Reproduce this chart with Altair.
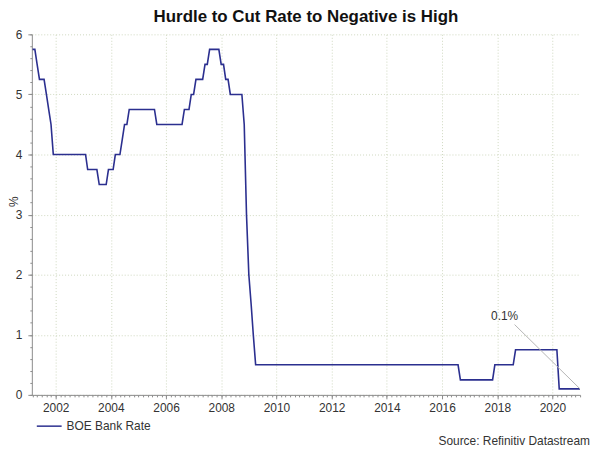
import altair as alt
import pandas as pd

# BOE Bank Rate, month-end points where the rate changes (and the month before)
months = [
    "2001-02", "2001-03", "2001-04", "2001-05", "2001-07", "2001-08", "2001-09",
    "2001-10", "2001-11", "2003-01", "2003-02", "2003-06", "2003-07", "2003-10",
    "2003-11", "2004-01", "2004-02", "2004-04", "2004-05", "2004-06", "2004-07",
    "2004-08", "2005-07", "2005-08", "2006-07", "2006-08", "2006-10", "2006-11",
    "2006-12", "2007-01", "2007-04", "2007-05", "2007-06", "2007-07", "2007-11",
    "2007-12", "2008-01", "2008-02", "2008-03", "2008-04", "2008-09", "2008-10",
    "2008-11", "2008-12", "2009-01", "2009-02", "2009-03", "2016-07", "2016-08",
    "2017-10", "2017-11", "2018-07", "2018-08", "2020-02", "2020-03", "2020-12",
]
rates = [
    5.75, 5.75, 5.5, 5.25, 5.25, 5.0, 4.75,
    4.5, 4.0, 4.0, 3.75, 3.75, 3.5, 3.5,
    3.75, 3.75, 4.0, 4.0, 4.25, 4.5, 4.5,
    4.75, 4.75, 4.5, 4.5, 4.75, 4.75, 5.0,
    5.0, 5.25, 5.25, 5.5, 5.5, 5.75, 5.75,
    5.5, 5.5, 5.25, 5.25, 5.0, 5.0, 4.5,
    3.0, 2.0, 1.5, 1.0, 0.5, 0.5, 0.25,
    0.25, 0.5, 0.5, 0.75, 0.75, 0.1, 0.1,
]
series_name = "BOE Bank Rate"

# annotation
ann_text = "0.1%"
ann_text_date = "2018-04-08"
ann_text_val = 1.32
ann_line_dates = ["2018-08-18", "2020-12-31"]
ann_line_vals = [1.17, 0.1]

x_labels_years = list(range(2002, 2021, 2))
y_major_ticks = [0, 1, 2, 3, 4, 5, 6]
y_minor_ticks = [round(i * 0.2, 1) for i in range(31)]

dates = (pd.to_datetime(months) + pd.offsets.MonthEnd(0)).strftime("%Y-%m-%d")
df = pd.DataFrame({"date": dates, "rate": rates, "series": series_name})
ann_line_df = pd.DataFrame({"date": ann_line_dates, "val": ann_line_vals})
ann_text_df = pd.DataFrame({"date": [ann_text_date], "val": [ann_text_val], "label": [ann_text]})

FONT = "Liberation Sans"
GRID = "#cfd8bf"
AXC = "#8c8c8c"

xscale = alt.Scale(domain=["2001-02-19", "2021-01-01"])
yscale = alt.Scale(domain=[0, 6], nice=False)

x_major = alt.X(
    "date:T", scale=xscale, title=None,
    axis=alt.Axis(
        values=[f"{y}-01-01" for y in x_labels_years], format="%Y",
        grid=True, gridColor=GRID, gridDash=[1, 2], gridWidth=1,
        domainColor=AXC, tickColor=AXC, tickSize=4,
        labelFont=FONT, labelFontSize=12, labelColor="#333333", labelPadding=4,
        orient="bottom",
    ),
)
y_major = alt.Y(
    "rate:Q", scale=yscale,
    axis=alt.Axis(
        values=y_major_ticks, title="%",
        grid=True, gridColor=GRID, gridDash=[1, 2], gridWidth=1,
        domainColor=AXC, tickColor=AXC, tickSize=4,
        labelFont=FONT, labelFontSize=12, labelColor="#333333", labelPadding=6,
        titleFont=FONT, titleFontSize=12, titleFontWeight="normal", titleColor="#333333",
        titleX=-11, titleY=168, orient="left",
    ),
)

line = alt.Chart(df).mark_line(strokeWidth=1.6).encode(
    x=x_major,
    y=y_major,
    color=alt.Color(
        "series:N",
        scale=alt.Scale(range=["#2b2f8f"]),
        legend=alt.Legend(
            title=None, orient="none", legendX=4, legendY=381,
            symbolType="stroke", symbolSize=625, symbolStrokeWidth=1.5,
            labelFont=FONT, labelFontSize=12, labelColor="#333333",
        ),
    ),
)

# minor ticks
minor = alt.Chart(df).mark_point(opacity=0).encode(
    x=alt.X("date:T", scale=xscale, title=None,
            axis=alt.Axis(tickCount={"interval": "month", "step": 2}, labels=False,
                          grid=False, domain=False, tickColor=AXC, tickSize=2,
                          orient="bottom")),
    y=alt.Y("rate:Q", scale=yscale, title=None,
            axis=alt.Axis(values=y_minor_ticks, labels=False,
                          grid=False, domain=False, tickColor=AXC, tickSize=2,
                          orient="left")),
)

ann_line = alt.Chart(ann_line_df).mark_line(color="#b5b5b5", strokeWidth=1).encode(
    x=alt.X("date:T", scale=xscale, axis=None),
    y=alt.Y("val:Q", scale=yscale, axis=None),
)
ann_txt = alt.Chart(ann_text_df).mark_text(font=FONT, fontSize=12, color="#333333").encode(
    x=alt.X("date:T", scale=xscale, axis=None),
    y=alt.Y("val:Q", scale=yscale, axis=None),
    text="label:N",
)

source = alt.Chart(pd.DataFrame({"t": ["Source: Refinitiv Datastream"]})).mark_text(
    font=FONT, fontSize=12, color="#333333", align="right", baseline="middle"
).encode(x=alt.value(562), y=alt.value(409), text="t:N")

chart = alt.layer(line, minor, ann_line, ann_txt, source).resolve_axis(
    x="independent", y="independent"
).properties(
    width=552, height=363,
    title=alt.TitleParams("Hurdle to Cut Rate to Negative is High", font=FONT,
                          fontSize=17, fontWeight="bold", color="#111111",
                          anchor="middle", offset=2),
    autosize=alt.AutoSizeParams(type="none"),
    padding={"left": 24, "top": 25, "right": 12, "bottom": 55},
).configure_view(stroke=None)

chart.save("out.html", embed_options={"renderer": "svg", "actions": False})
